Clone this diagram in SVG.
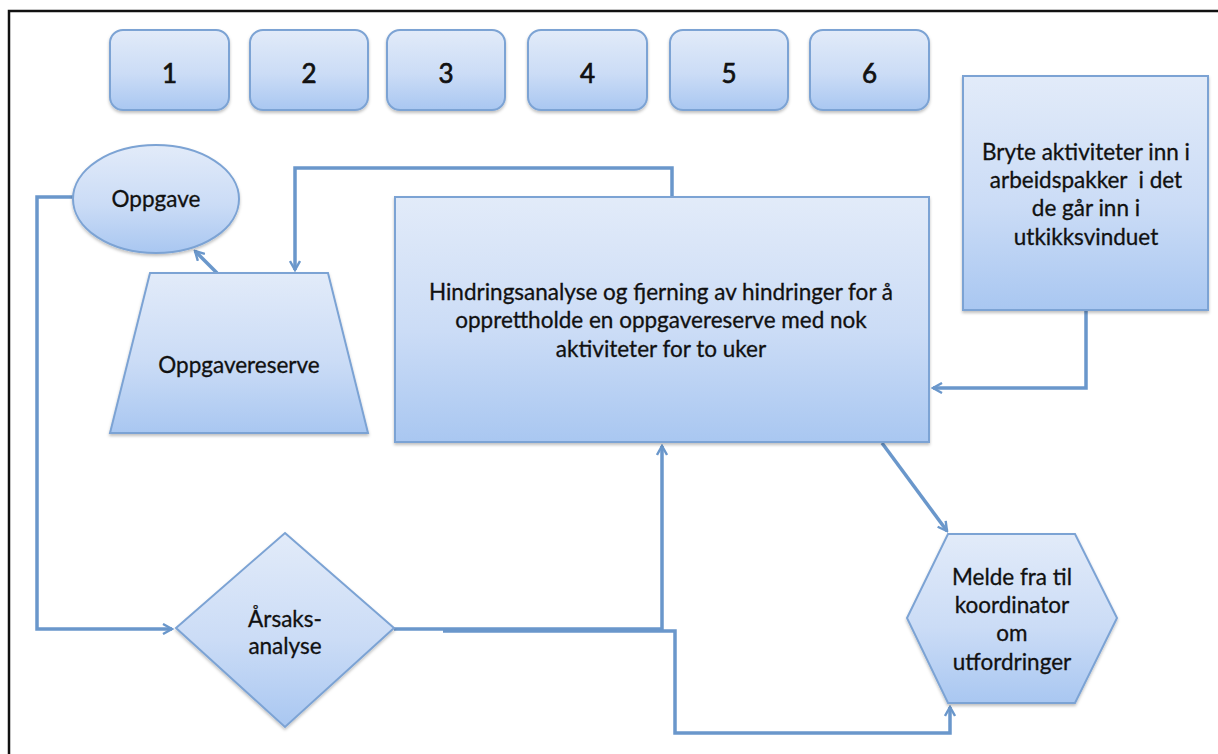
<svg xmlns="http://www.w3.org/2000/svg" width="1218" height="754" viewBox="0 0 1218 754">
  <defs>
    <linearGradient id="fill" x1="0" y1="0" x2="0" y2="1">
      <stop offset="0" stop-color="#e2ebf9"/>
      <stop offset="0.55" stop-color="#cbdcf6"/>
      <stop offset="1" stop-color="#a9c7f1"/>
    </linearGradient>
    <filter id="shadow" x="-10%" y="-10%" width="130%" height="130%">
      <feDropShadow dx="0" dy="2" stdDeviation="1.5" flood-color="#000" flood-opacity="0.25"/>
    </filter>
    <marker id="arrow" viewBox="0 0 12 12" refX="10" refY="6" markerWidth="12" markerHeight="12" markerUnits="userSpaceOnUse" orient="auto">
      <path d="M1,1 L10,6 L1,11" fill="none" stroke="#6a97cb" stroke-width="2.4" stroke-linejoin="miter"/>
    </marker>
  </defs>
  <style>
    .shape { fill: url(#fill); stroke: #7ca3d4; stroke-width: 2; filter: url(#shadow); }
    .lbl { font-family: Lato, "Liberation Sans", sans-serif; font-size: 22.5px; fill: #111; stroke: #111; stroke-width: 0.3; text-anchor: middle; }
    .num { font-family: Lato, "Liberation Sans", sans-serif; font-size: 26px; font-weight: normal; fill: #111; stroke: #111; stroke-width: 0.7; text-anchor: middle; }
    .conn { fill: none; stroke: #6a97cb; stroke-width: 3.5; stroke-linejoin: miter; }
  </style>

  <rect width="1218" height="754" fill="#ffffff"/>
  <!-- frame -->
  <rect x="9" y="11" width="1230" height="770" fill="none" stroke="#111" stroke-width="2.5"/>

  <!-- numbered steps -->
  <g id="step1"><rect class="shape" x="110" y="30" width="119" height="80" rx="13"/><text class="num" x="169.5" y="83">1</text></g>
  <g id="step2"><rect class="shape" x="250" y="30" width="118" height="80" rx="13"/><text class="num" x="309" y="83">2</text></g>
  <g id="step3"><rect class="shape" x="387" y="30" width="118" height="80" rx="13"/><text class="num" x="446" y="83">3</text></g>
  <g id="step4"><rect class="shape" x="528" y="30" width="119" height="80" rx="13"/><text class="num" x="587.5" y="83">4</text></g>
  <g id="step5"><rect class="shape" x="670" y="30" width="118" height="80" rx="13"/><text class="num" x="729" y="83">5</text></g>
  <g id="step6"><rect class="shape" x="810" y="30" width="119" height="80" rx="13"/><text class="num" x="869.5" y="83">6</text></g>

  <!-- connectors -->
  <g id="connectors">
    <path class="conn" d="M73,197 H37 V629 H172" marker-end="url(#arrow)"/>
    <path class="conn" d="M217,273 L195,251" marker-end="url(#arrow)"/>
    <path class="conn" d="M672,197 V168 H295 V270" marker-end="url(#arrow)"/>
    <path class="conn" d="M1086,310 V388 H933" marker-end="url(#arrow)"/>
    <path class="conn" d="M882,443 L947,531" marker-end="url(#arrow)"/>
    <path class="conn" d="M394,629 H662 V446" marker-end="url(#arrow)"/>
    <path class="conn" d="M443,631 H675 V733 H950 V707" marker-end="url(#arrow)"/>
  </g>

  <g id="oppgave">
    <ellipse class="shape" cx="156" cy="199" rx="83" ry="54"/>
    <text class="lbl" x="156" y="207">Oppgave</text>
  </g>

  <g id="oppgavereserve">
    <polygon class="shape" points="150,273 328,273 368,433 110,433"/>
    <text class="lbl" x="239" y="373">Oppgavereserve</text>
  </g>

  <g id="hindringsanalyse">
    <rect class="shape" x="395" y="197" width="534" height="245"/>
    <text class="lbl" x="661" y="300">Hindringsanalyse og fjerning av hindringer for å</text>
    <text class="lbl" x="661" y="328">opprettholde en oppgavereserve med nok</text>
    <text class="lbl" x="661" y="357">aktiviteter for to uker</text>
  </g>

  <g id="bryte">
    <rect class="shape" x="963" y="76" width="245" height="234"/>
    <text class="lbl" x="1086" y="160">Bryte aktiviteter inn i</text>
    <text class="lbl" x="1086" y="188" xml:space="preserve">arbeidspakker  i det</text>
    <text class="lbl" x="1086" y="216">de går inn i</text>
    <text class="lbl" x="1086" y="245">utkikksvinduet</text>
  </g>

  <g id="aarsaksanalyse">
    <polygon class="shape" points="285,533 394,628 285,727 176,628"/>
    <text class="lbl" x="285" y="627">Årsaks-</text>
    <text class="lbl" x="285" y="654">analyse</text>
  </g>

  <g id="melde">
    <polygon class="shape" points="948,534 1075,534 1117,618 1075,703 948,703 907,618"/>
    <text class="lbl" x="1012" y="585">Melde fra til</text>
    <text class="lbl" x="1012" y="613">koordinator</text>
    <text class="lbl" x="1012" y="641">om</text>
    <text class="lbl" x="1012" y="670">utfordringer</text>
  </g>
</svg>
